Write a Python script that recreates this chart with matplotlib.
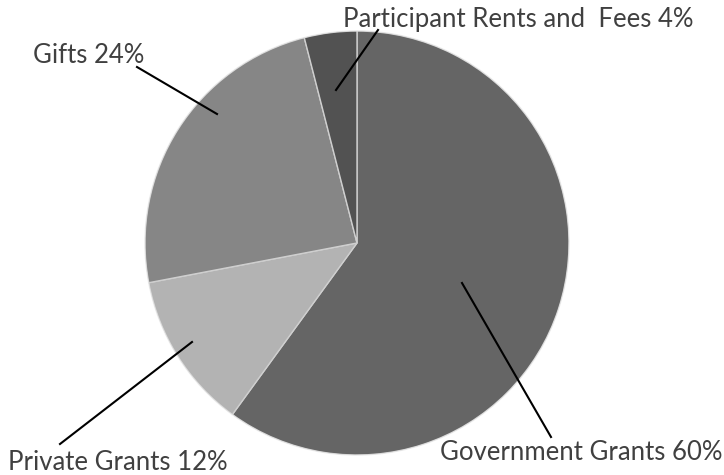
import matplotlib.pyplot as plt

# revenue sources (percent)
labels = ['Government Grants 60%', 'Private Grants 12%', 'Gifts 24%',
          'Participant Rents and  Fees 4%']
shares = [60, 12, 24, 4]
colors = ['#656565', '#b3b3b3', '#868686', '#525252']

W, H = 724, 475
fig = plt.figure(figsize=(W / 100, H / 100), dpi=100)
ax = fig.add_axes([0, 0, 1, 1])

cx, cy, r = 357, H - 243, 212
wedges, _ = ax.pie(shares, colors=colors, startangle=90, counterclock=False,
                   center=(cx, cy), radius=r, frame=True,
                   wedgeprops=dict(edgecolor='#cfcfcf', linewidth=1.0))
ax.set_xlim(0, W)
ax.set_ylim(0, H)
ax.set_aspect('equal')
ax.axis('off')

# soft rim
for i in range(5):
    c = plt.Circle((cx, cy), r + 0.5 + i * 0.6, fill=False,
                   edgecolor='white', alpha=0.35, linewidth=1.2)
    ax.add_patch(c)

font = dict(fontsize=18.5, fontweight='normal', family=['Lato', 'DejaVu Sans'],
            color='#404040')

# label text position (px) and leader line (px)
label_pos = [(440, 460), (8, 470), (33, 63), (343, 27)]
leaders = [((551, 437), (462, 283)),
           ((60, 444), (192, 342)),
           ((137, 67), (217, 114)),
           ((378, 30), (336, 90))]

for lab, (tx, ty), (p0, p1) in zip(labels, label_pos, leaders):
    ax.text(tx, H - ty, lab, ha='left', va='baseline', **font)
    ax.plot([p0[0], p1[0]], [H - p0[1], H - p1[1]], color='black', lw=1.5)

fig.savefig('out.png', dpi=100)
